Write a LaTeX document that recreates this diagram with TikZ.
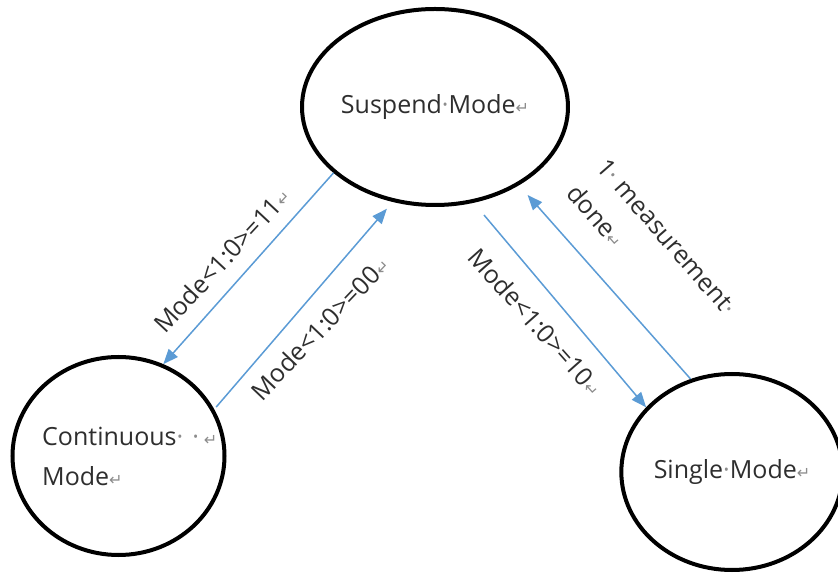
\documentclass[tikz,border=0pt]{standalone}
\usepackage{fontspec}
\setmainfont{Open Sans}
\newfontfamily\symfont{DejaVu Sans}
\usetikzlibrary{shapes.geometric,arrows.meta}
\definecolor{txt}{HTML}{2E2E2E}
\definecolor{markc}{HTML}{8C8C8C}
\definecolor{arr}{HTML}{5B9BD5}
\newcommand{\crmark}{{\color{markc}\symfont\fontsize{16}{16}\selectfont ↵}}
\newcommand{\spmark}{{\color{markc}·}}
\begin{document}
\begin{tikzpicture}[x=1pt,y=1pt,
  state/.style={ellipse, draw=black, line width=4pt, inner sep=0pt},
  lbl/.style={font=\fontsize{25}{40}\selectfont, text=txt, inner sep=0pt},
  trans/.style={draw=arr, line width=1.5pt, -{Triangle[length=15pt,width=12pt]}}]
\useasboundingbox (0,0) rectangle (838,573);
\node[state, minimum width=210pt, minimum height=196pt, lbl] (sus) at (435,466) {Suspend\spmark Mode\crmark};
\node[state, minimum width=212pt, minimum height=198pt] (cont) at (118.5,117) {};
\node[state, minimum width=206pt, minimum height=196pt, lbl] (single) at (732,101) {Single\spmark Mode\crmark};
\node[lbl, align=left, anchor=west] (contlbl) at (42,116.5) {Continuous\spmark\hspace{9pt}\spmark\hspace{5pt}\crmark\\Mode\crmark};
\draw[trans] (sus.213.7) -- (cont.64.4);
\draw[trans, shorten <=3pt, shorten >=9pt] (cont.26.4) -- (sus.246.4);
\draw[trans, shorten <=16pt] (sus.292.1) -- (single.143.7);
\draw[trans, shorten >=13pt] (single.114.2) -- (sus.317.4);
\node[lbl, rotate=47] (l11) at (222,313) {Mode<1:0>=11\crmark};
\node[lbl, rotate=46.4] (l00) at (320,245) {Mode<1:0>=00\crmark};
\node[lbl, rotate=-48.4] (l10) at (536,251) {Mode<1:0>=10\crmark};
\node[lbl, rotate=-49, align=left] (ldone) at (652,323) {1\spmark\ measurement\spmark\\done\crmark};
\end{tikzpicture}
\end{document}
